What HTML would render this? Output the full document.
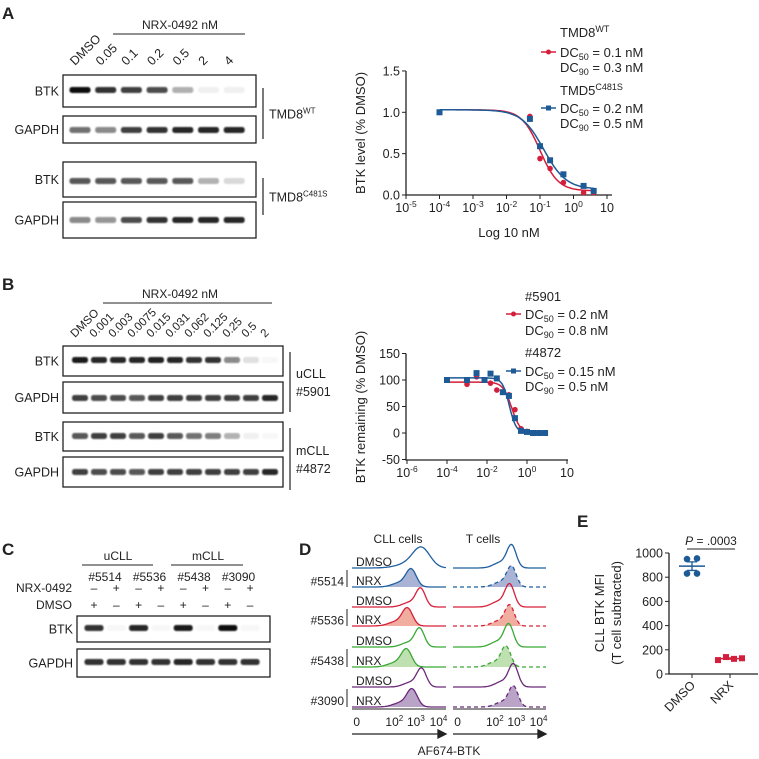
<!DOCTYPE html>
<html><head><meta charset="utf-8"><style>
html,body{margin:0;padding:0;background:#fff;}
svg{display:block;font-family:"Liberation Sans",sans-serif;}
.n{font-family:"Liberation Sans Narrow","Liberation Sans",sans-serif;}
</style></head><body>
<svg id="fig" width="759" height="759" viewBox="0 0 759 759" xmlns="http://www.w3.org/2000/svg">
<defs><filter id="bl" x="-20%" y="-100%" width="140%" height="300%"><feGaussianBlur stdDeviation="0.9"/></filter></defs>
<g font-size="12" fill="#222">
<text x="2" y="19" font-size="17" font-weight="bold">A</text>
<text x="2" y="290" font-size="17" font-weight="bold">B</text>
<text x="2" y="555" font-size="17" font-weight="bold">C</text>
<text x="299" y="555" font-size="17" font-weight="bold">D</text>
<text x="577" y="527" font-size="17" font-weight="bold">E</text>
<text x="180" y="29" text-anchor="middle">NRX-0492 nM</text>
<line x1="113" y1="34" x2="245" y2="34" stroke="#222"/>
<text x="180" y="298" text-anchor="middle">NRX-0492 nM</text>
<line x1="103" y1="303" x2="272" y2="303" stroke="#222"/>
<text x="509" y="237" text-anchor="middle" class="n" font-size="13">Log 10 nM</text>
<text transform="translate(365,133) rotate(-90)" text-anchor="middle" class="n" font-size="13">BTK level (% DMSO)</text>
<text transform="translate(365,407) rotate(-90)" text-anchor="middle" class="n" font-size="13">BTK remaining (% DMSO)</text>
<text x="118" y="560" text-anchor="middle">uCLL</text>
<text x="208" y="560" text-anchor="middle">mCLL</text>
<line x1="82" y1="565" x2="153" y2="565" stroke="#222"/>
<line x1="171" y1="565" x2="243" y2="565" stroke="#222"/>
<text x="72" y="592" text-anchor="end">NRX-0492</text>
<text x="72" y="609" text-anchor="end">DMSO</text>
<text x="398" y="543" text-anchor="middle">CLL cells</text>
<text x="483" y="543" text-anchor="middle">T cells</text>
<text x="449" y="755" text-anchor="middle">AF674-BTK</text>
<text transform="translate(604,613) rotate(-90)" text-anchor="middle" class="n" font-size="13">CLL BTK MFI</text>
<text transform="translate(621,613) rotate(-90)" text-anchor="middle" class="n" font-size="13">(T cell subtracted)</text>
<text x="711" y="545" text-anchor="middle"><tspan font-style="italic">P</tspan> = .0003</text>
<line x1="687" y1="549" x2="735" y2="549" stroke="#222"/>
</g>
<g id="root"></g>
</svg>
<script>
const NS='http://www.w3.org/2000/svg';
const root=document.getElementById('root');
function mk(tag,attrs,parent){const e=document.createElementNS(NS,tag);for(const k in attrs)e.setAttribute(k,attrs[k]);(parent||root).appendChild(e);return e;}
function tx(x,y,s,attrs){const e=mk('text',Object.assign({x:x,y:y,'font-size':12,fill:'#222'},attrs||{}));e.innerHTML=s;return e;}

// ---------- data: blots ----------
const blotALanes=['DMSO','0.05','0.1','0.2','0.5','2','4'];
const blotABtkWT=[1,0.85,0.8,0.75,0.35,0.06,0.06];
const blotAGapWT=[0.6,0.5,0.8,0.85,0.9,0.9,0.9];
const blotABtkC=[0.7,0.7,0.7,0.7,0.7,0.3,0.15];
const blotAGapC=[0.5,0.45,0.75,0.85,0.9,0.9,0.9];
const blotBLanes=['DMSO','0.001','0.003','0.0075','0.015','0.031','0.062','0.125','0.25','0.5','2'];
const blotBBtkU=[0.95,0.9,0.9,0.9,0.92,0.9,0.85,0.85,0.5,0.12,0.03];
const blotBGapU=[0.8,0.75,0.75,0.7,0.8,0.8,0.8,0.8,0.8,0.8,0.9];
const blotBBtkM=[0.7,0.8,0.8,0.7,0.8,0.7,0.6,0.55,0.3,0.06,0.03];
const blotBGapM=[0.8,0.75,0.75,0.7,0.8,0.8,0.8,0.8,0.8,0.8,0.9];
const blotCNrx=['–','+','–','+','–','+','–','+'];
const blotCDmso=['+','–','+','–','+','–','+','–'];
const blotCSamples=['#5514','#5536','#5438','#3090'];
const blotCBtk=[0.85,0.02,0.9,0.02,0.95,0.02,1,0.02];
const blotCGap=[0.85,0.85,0.85,0.85,0.9,0.85,0.85,0.85];

function blotBox(x,y,w,h,label,name){
  const r=mk('rect',{x:x,y:y,width:w,height:h,fill:'#fff',stroke:'#222','stroke-width':1.3});
  
  
  const t=tx(x-4,y+h/2+4.5,label,{'text-anchor':'end','font-size':12.5});
  
  
}
function bands(x0,dx,yc,bw,vals,name){
  vals.forEach((v,i)=>{
    const b=mk('rect',{x:x0+i*dx-bw/2,y:yc-3,width:bw,height:6,rx:2.5,fill:'#111','fill-opacity':Math.max(0.03,v),filter:'url(#bl)'});
    
    
  });
}
function laneLabels(x0,dx,y,labels,name,fs){
  labels.forEach((s,i)=>{
    const t=tx(0,0,s,{transform:`translate(${x0+i*dx-5},${y}) rotate(-45)`,'font-size':fs});
    
    
  });
}
function bracket(x,y1,y2,lines,name){
  const l=mk('line',{x1:x,y1:y1,x2:x,y2:y2,stroke:'#222','stroke-width':1.2});
  
  
  lines.forEach((s,i)=>{
    const t=tx(x+6,(y1+y2)/2-(lines.length-1)*9+i*18+5,s,{'font-size':12.5});
    
    
  });
}
// Blot A
laneLabels(80,25.7,66,blotALanes,'blot-a',12.5);
blotBox(63,75,193,32,'BTK','blot-a-btk-wt');
blotBox(63,116,193,27,'GAPDH','blot-a-gapdh-wt');
blotBox(63,162,193,35,'BTK','blot-a-btk-c481s');
blotBox(63,202,193,36,'GAPDH','blot-a-gapdh-c481s');
bands(80,25.7,90,21,blotABtkWT,'blot-a-btk-wt');
bands(80,25.7,130,21,blotAGapWT,'blot-a-gapdh-wt');
bands(80,25.7,181,21,blotABtkC,'blot-a-btk-c481s');
bands(80,25.7,220,21,blotAGapC,'blot-a-gapdh-c481s');
bracket(263,88,139,['TMD8<tspan dy="-5" font-size="8">WT</tspan>'],'blot-a-wt');
bracket(263,178,215,['TMD8<tspan dy="-5" font-size="8">C481S</tspan>'],'blot-a-c481s');
// Blot B
laneLabels(80,19,338,blotBLanes,'blot-b',11.5);
blotBox(63,346,220,30,'BTK','blot-b-btk-ucll');
blotBox(63,382,220,31,'GAPDH','blot-b-gapdh-ucll');
blotBox(63,422,220,29,'BTK','blot-b-btk-mcll');
blotBox(63,457,220,30,'GAPDH','blot-b-gapdh-mcll');
bands(80,19,360,16,blotBBtkU,'blot-b-btk-ucll');
bands(80,19,398,16,blotBGapU,'blot-b-gapdh-ucll');
bands(80,19,436,16,blotBBtkM,'blot-b-btk-mcll');
bands(80,19,472,16,blotBGapM,'blot-b-gapdh-mcll');
bracket(290,352,412,['uCLL','#5901'],'blot-b-ucll');
bracket(290,428,490,['mCLL','#4872'],'blot-b-mcll');
// Blot C
blotCSamples.forEach((s,i)=>{const t=tx(94+i*44.5+11,581,s,{'text-anchor':'middle','font-size':12});

});
blotCNrx.forEach((s,i)=>{const t=tx(94+i*22.3,592,s,{'text-anchor':'middle'});

});
blotCDmso.forEach((s,i)=>{const t=tx(94+i*22.3,609,s,{'text-anchor':'middle'});

});
blotBox(77,616,193,26,'BTK','blot-c-btk');
blotBox(77,649,193,28,'GAPDH','blot-c-gapdh');
bands(94,22.3,628,19,blotCBtk,'blot-c-btk');
bands(94,22.3,662,19,blotCGap,'blot-c-gapdh');

// ---------- dose-response charts ----------
const aXTicks=[-5,-4,-3,-2,-1,0,1];
const aXLabels=['-5','-4','-3','-2','-1','0',''];
const aYTicks=[0,0.5,1.0,1.5];
const aDoses=[0.0001,0.05,0.1,0.2,0.5,2,4];
const aRed=[1.0,0.95,0.44,0.32,0.15,0.03,0.03];
const aBlue=[1.0,0.92,0.59,0.42,0.25,0.11,0.05];
const aRedFit=[1.03,0.05,0.1,1.6];   // top,bottom,ec50,hill
const aBlueFit=[1.03,0.07,0.13,1.3];
const bXTicks=[-6,-4,-2,0,2];
const bXLabels=['-6','-4','-2','0',''];
const bYTicks=[-50,0,50,100,150];
const bDoses=[0.0001,0.001,0.003,0.0075,0.015,0.031,0.062,0.125,0.25,0.5,1,2,4,8];
const bBlue=[100,100,113,100,112,103,77,70,28,4,2,0,0,0];
const bRed=[100,92,106,null,94,81,null,72,44,8,3,null,null,null];
const bRedFit=[96,0,0.17,2.0];
const bBlueFit=[104,0,0.13,2.5];
const RED='#d41f3c',BLUE='#1d5a96';

function doseChart(o){
  const X=v=>o.x0+(Math.log10(v)-o.lmin)*o.kx;
  const XL=l=>o.x0+(l-o.lmin)*o.kx;
  const Y=v=>o.y0-(v-o.vmin)*o.ky;
  const ax=mk('path',{d:`M${o.x0},${Y(o.yTicks[o.yTicks.length-1])}V${o.yAxis}H${o.xEnd}`,fill:'none',stroke:'#222','stroke-width':1.3});
  
  
  o.yTicks.forEach(v=>{
    const t=mk('line',{x1:o.x0-4,x2:o.x0,y1:Y(v),y2:Y(v),stroke:'#222'});
    
    
    const l=tx(o.x0-6,Y(v)+4.5,o.yFmt(v),{'text-anchor':'end','font-size':12.5});
    
    
  });
  o.xTicks.forEach((lv,j)=>{
    const t=mk('line',{x1:XL(lv),x2:XL(lv),y1:o.yAxis,y2:o.yAxis+4,stroke:'#222'});
    
    
    const e=o.xLabels[j];
    const s=e===''?'10':`10<tspan dy="-5" font-size="8.5">${e}</tspan>`;
    const l=tx(XL(lv),o.yAxis+17,s,{'text-anchor':'middle','font-size':12.5});
    
    
  });
  [[o.redFit,RED,o.red,'red'],[o.blueFit,BLUE,o.blue,'blue']].forEach(([p,c,vals,nm])=>{
    let d='';
    for(let i=0;i<=120;i++){const l=Math.log10(o.doses[0])+i*(Math.log10(o.doses[o.doses.length-1])-Math.log10(o.doses[0]))/120;const v=10**l;
      const f=p[1]+(p[0]-p[1])/(1+Math.pow(v/p[2],p[3]));d+=(i?'L':'M')+XL(l).toFixed(1)+','+Y(f).toFixed(1);}
    const cu=mk('path',{d:d,fill:'none',stroke:c,'stroke-width':1.5});
    
    
    vals.forEach((v,i)=>{ if(v===null)return;
      let m;
      if(nm==='red') m=mk('circle',{cx:X(o.doses[i]),cy:Y(v),r:2.8,fill:c});
      else m=mk('rect',{x:X(o.doses[i])-3,y:Y(v)-3,width:6,height:6,fill:c});
      
      
    });
  });
  o.legend.forEach((L,i)=>{
    const t=tx(o.lx,L.y,L.s,{'font-size':13});
    
    
    if(L.c){
      const ln=mk('line',{x1:o.lx-19,x2:o.lx-4,y1:L.y-5,y2:L.y-5,stroke:L.c,'stroke-width':1.5});
      
      
      const mm=L.c===RED?mk('circle',{cx:o.lx-11.5,cy:L.y-5,r:2.5,fill:L.c}):mk('rect',{x:o.lx-14,y:L.y-7.5,width:5,height:5,fill:L.c});
      
      
    }
  });
}
const sub=s=>`<tspan dy="3" font-size="9">${s}</tspan><tspan dy="-3"> </tspan>`;
doseChart({name:'chart-a',x0:406,xEnd:612,lmin:-5,kx:33.5,y0:195,yAxis:195,vmin:0,ky:82.7,
  xTicks:aXTicks,xLabels:aXLabels,yTicks:aYTicks,yFmt:v=>v.toFixed(1),doses:aDoses,red:aRed,blue:aBlue,redFit:aRedFit,blueFit:aBlueFit,lx:560,
  legend:[{y:37,s:'TMD8<tspan dy="-5" font-size="9">WT</tspan>'},{y:57,s:'DC'+sub('50')+'= 0.1 nM',c:RED},{y:72,s:'DC'+sub('90')+'= 0.3 nM'},
  {y:95,s:'TMD5<tspan dy="-5" font-size="9">C481S</tspan>'},{y:113,s:'DC'+sub('50')+'= 0.2 nM',c:BLUE},{y:128,s:'DC'+sub('90')+'= 0.5 nM'}]});
doseChart({name:'chart-b',x0:406,xEnd:568,lmin:-6.05,kx:20,y0:433,yAxis:460,vmin:0,ky:0.53,
  xTicks:bXTicks,xLabels:bXLabels,yTicks:bYTicks,yFmt:v=>String(v),doses:bDoses,red:bRed,blue:bBlue,redFit:bRedFit,blueFit:bBlueFit,lx:525,
  legend:[{y:301,s:'#5901'},{y:319,s:'DC'+sub('50')+'= 0.2 nM',c:RED},{y:335,s:'DC'+sub('90')+'= 0.8 nM'},
  {y:357,s:'#4872'},{y:376,s:'DC'+sub('50')+'= 0.15 nM',c:BLUE},{y:391,s:'DC'+sub('90')+'= 0.5 nM'}]});

// ---------- flow histograms ----------
const flowSamples=['#5514','#5536','#5438','#3090'];
const flowColors=['#1f5fa0','#d6203a','#3aa935','#6b2a7a'];
const flowFills=['#a9b3d6','#f0ada0','#bfe0b0','#b9a3c6'];
const cllDmsoPeak=[0.74,0.73,0.72,0.74];
const cllDmsoWidth=[0.09,0.05,0.05,0.05];
const cllNrxPeak=[0.63,0.59,0.58,0.64];
const tDmsoPeak=[0.63,0.61,0.6,0.65];
const tNrxPeak=[0.63,0.61,0.57,0.65];
const flowTickLabels=['0','10<tspan dy="-5" font-size="8">2</tspan>','10<tspan dy="-5" font-size="8">3</tspan>','10<tspan dy="-5" font-size="8">4</tspan>'];
const flowTickPos=[0.05,0.45,0.68,0.92];
const rowBase=[568,587,607,626,647,667,687,707];
const panels=[{x:352,w:94,name:'cll'},{x:453,w:93,name:'tcell'}];
function hist(px,pw,base,peak,wd,h,color,fill,dashed,name){
  let d='';
  for(let i=0;i<=80;i++){const f=i/80;let v=Math.exp(-Math.pow((f-peak)/wd,2)/2)+0.25*Math.exp(-Math.pow((f-peak+0.12)/(wd*1.5),2)/2);
    d+=(i?'L':'M')+(px+f*pw).toFixed(1)+','+(base-v*h).toFixed(1);}
  if(fill){const a=mk('path',{d:d+`L${px+pw},${base}L${px},${base}Z`,fill:fill,stroke:'none'});
    
    }
  const p=mk('path',{d:d,fill:'none',stroke:color,'stroke-width':1.3,'stroke-dasharray':dashed?'4,3':'none'});
  
  
}
flowSamples.forEach((s,i)=>{
  const bD=rowBase[2*i],bN=rowBase[2*i+1];
  hist(352,94,bD,cllDmsoPeak[i],cllDmsoWidth[i],18,flowColors[i],null,false,'cll-dmso-histogram');
  hist(352,94,bN,cllNrxPeak[i],0.055,17,flowColors[i],flowFills[i],false,'cll-nrx-histogram');
  hist(453,93,bD,tDmsoPeak[i],0.05,22,flowColors[i],null,false,'tcell-dmso-histogram');
  hist(453,93,bN,tNrxPeak[i],0.05,20,flowColors[i],flowFills[i],true,'tcell-nrx-histogram');
  const l1=tx(356,bD-2,'DMSO',{'font-size':12});
  
  
  const l2=tx(356,bN-2,'NRX',{'font-size':12});
  
  
  const br=mk('line',{x1:347,x2:347,y1:bD+2,y2:bN,stroke:'#222'});
  
  
  const sl=tx(344,(bD+bN)/2+8,s,{'text-anchor':'end','font-size':12});
  
  
});
panels.forEach(P=>{
  const ax=mk('line',{x1:P.x,x2:P.x+P.w,y1:709,y2:709,stroke:'#222'});
  
  
  flowTickPos.forEach((f,j)=>{
    const l=tx(P.x+f*P.w,726,flowTickLabels[j],{'text-anchor':'middle','font-size':12});
    
    
  });
  const ar=mk('path',{d:`M${P.x},734H${P.x+P.w-7}M${P.x+P.w-8},730L${P.x+P.w},734L${P.x+P.w-8},738Z`,stroke:'#222','stroke-width':1.3,fill:'#222'});
  
  
});

// ---------- panel E ----------
const eCats=['DMSO','NRX'];
const eDmso=[950,955,830,830];
const eNrx=[115,140,125,130];
const eTicks=[0,200,400,600,800,1000];
(function(){
  const x0=669,y0=674,ky=0.121;const Y=v=>y0-v*ky;const cx=[692,730];
  const ax=mk('path',{d:`M${x0},${Y(1000)}V${y0}H758`,fill:'none',stroke:'#222','stroke-width':1.3});
  
  
  eTicks.forEach(v=>{
    const t=mk('line',{x1:x0-4,x2:x0,y1:Y(v),y2:Y(v),stroke:'#222'});
    
    
    const l=tx(x0-6,Y(v)+4.5,String(v),{'text-anchor':'end','font-size':12.5});
    
    
  });
  eCats.forEach((c,i)=>{
    const t=mk('line',{x1:cx[i],x2:cx[i],y1:y0,y2:y0+4,stroke:'#222'});
    
    
    const l=tx(0,0,c,{transform:`translate(${cx[i]+4},${y0+12}) rotate(-45)`,'text-anchor':'end','font-size':12.5});
    
    
  });
  [[eDmso,'#1d5a96'],[eNrx,'#d41f3c']].forEach(([vals,c],i)=>{
    const m=vals.reduce((a,b)=>a+b,0)/vals.length;
    vals.forEach((v,j)=>{
      const px=cx[i]+(i===0?(j%2?5:-5):(j-1.5)*8);
      const p=i===0?mk('circle',{cx:px,cy:Y(v),r:3.3,fill:c}):mk('rect',{x:px-3,y:Y(v)-3,width:6,height:6,fill:c});
      
      
    });
    const ml=mk('line',{x1:cx[i]-13,x2:cx[i]+13,y1:Y(m),y2:Y(m),stroke:c,'stroke-width':1.5});
    
    
    const sd=Math.sqrt(vals.reduce((a,b)=>a+(b-m)*(b-m),0)/(vals.length-1))/Math.sqrt(vals.length);
    const eb=mk('path',{d:`M${cx[i]},${Y(m-sd)}V${Y(m+sd)}M${cx[i]-5},${Y(m-sd)}h10M${cx[i]-5},${Y(m+sd)}h10`,stroke:c,'stroke-width':1.3});
    
    
  });
})();
</script>
</body></html>
